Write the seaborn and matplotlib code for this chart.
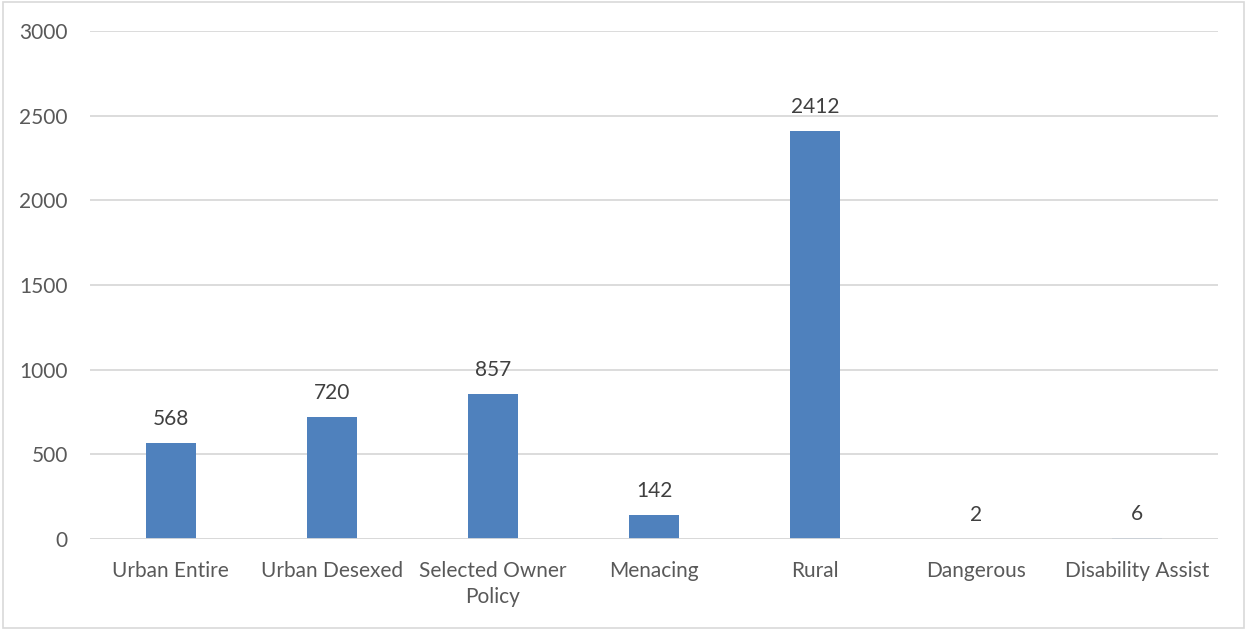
import matplotlib
matplotlib.use("Agg")
import matplotlib.pyplot as plt
import seaborn as sns
import pandas as pd
from matplotlib.patches import Rectangle

categories = ["Urban Entire", "Urban Desexed", "Selected Owner\nPolicy", "Menacing",
              "Rural", "Dangerous", "Disability Assist"]
values = [568, 720, 857, 142, 2412, 2, 6]
yticks = [0, 500, 1000, 1500, 2000, 2500, 3000]

sns.set_theme(style="white")
plt.rcParams['font.family'] = ['Lato', 'DejaVu Sans']

df = pd.DataFrame({"cat": categories, "val": values})

fig = plt.figure(figsize=(12.47, 6.30), dpi=100)
ax = fig.add_axes([90/1247, 1-539/630, (1218-90)/1247, (539-31)/630])

sns.barplot(data=df, x="cat", y="val", color="#4F81BD", width=0.31, saturation=1, ax=ax,
            zorder=3, linewidth=0, edgecolor="none")

ax.set_ylim(0, 3000)
ax.set_yticks(yticks)
ax.set_xlim(-0.5, len(categories) - 0.5)
ax.yaxis.grid(True, color="#D9D9D9", linewidth=1.3, zorder=0)
ax.axhline(0, color="#D9D9D9", linewidth=1.3, zorder=4)
ax.xaxis.grid(False)
for s in ax.spines.values():
    s.set_visible(False)
ax.set_xlabel("")
ax.set_ylabel("")
ax.tick_params(axis="y", colors="#595959", labelsize=15, length=0, pad=16)
ax.tick_params(axis="x", colors="#595959", labelsize=15, length=0, pad=16)
for lbl in ax.get_xticklabels():
    lbl.set_linespacing(1.35)

for c in ax.containers:
    ax.bar_label(c, labels=[str(v) for v in values], padding=10, fontsize=15, color="#404040")

fig.patches.append(Rectangle((3/1247, 2/630), 1241/1247, 626/630, transform=fig.transFigure,
                             fill=False, edgecolor="#D9D9D9", linewidth=1.2))

fig.savefig("out.png", dpi=100)
